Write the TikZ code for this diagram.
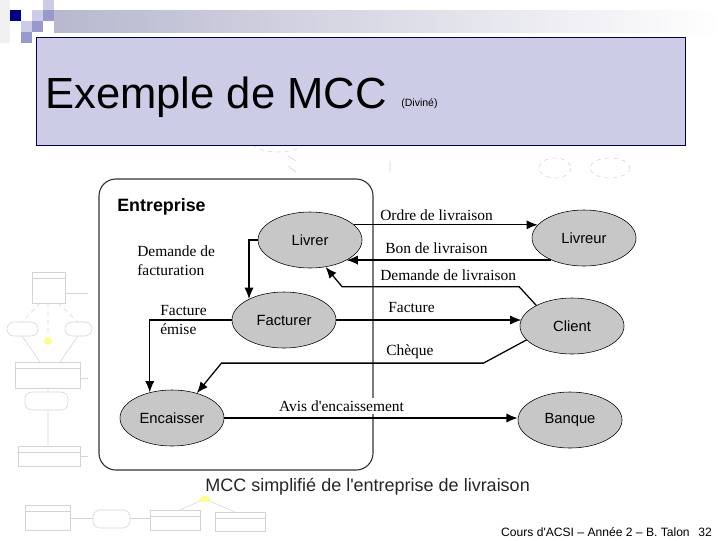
\documentclass[tikz,border=0pt]{standalone}
\usepackage{fontspec}
\setmainfont{Liberation Serif}[Ligatures=TeXOff]
\setsansfont{Liberation Sans}[Ligatures=TeXOff]
\usetikzlibrary{shapes,arrows,arrows.meta}
\definecolor{navy}{RGB}{0,0,128}
\definecolor{lavender}{RGB}{204,204,230}
\definecolor{midblue}{RGB}{153,153,204}
\definecolor{faint}{RGB}{212,212,212}

\begin{document}
\begin{tikzpicture}[x=0.025cm, y=-0.025cm, auto]
	\tikzstyle{process} = [ellipse, draw, fill=black!22, minimum width=2.6cm, minimum height=1.4cm, inner sep=0pt, font=\sffamily\fontsize{10.5}{12}\selectfont]
	\tikzstyle{flow} = [anchor=west, inner sep=0pt, align=left, font=\fontsize{11}{13.5}\selectfont]
	\tikzstyle{line} = [draw, line width=0.9pt, -{Latex[length=8pt,width=6.5pt]}]
	\tikzstyle{ghost} = [draw=faint, line width=0.4pt]
	
	\useasboundingbox (0,0) rectangle (720,540);
	
	\fill[black!6] (0,0) rectangle (10,43);
	\fill[lavender] (43,0) rectangle (54,10);
	\fill[navy] (10,10) rectangle (21,21);
	\fill[lavender] (32,10) rectangle (43,21);
	\fill[midblue] (43,10) rectangle (54,21);
	\fill[lavender] (21,21) rectangle (32,32);
	\fill[midblue] (32,21) rectangle (43,32);
	\fill[midblue] (21,32) rectangle (32,43);
	\shade[left color=black!10!lavender, middle color=navy, right color=white] (54,10) rectangle (720,32);
	
	\path [ghost] (32,272) rectangle (65,303) (32,278) -- (65,278) (65,293) -- (88,293);
	\path [ghost, rounded corners=5] (7,322) rectangle (38,336) (65,322) rectangle (92,336);
	\path [ghost, dashed] (48,303) -- (48,337) (40,303) -- (22,322) (58,303) -- (78,322);
	\fill[yellow!40] (48,341) circle (4);
	\path [ghost] (15,362) rectangle (80,388) (15,368) -- (80,368) (80,378) -- (88,378);
	\path [ghost] (22,336) -- (40,362) (78,336) -- (60,362) (48,388) -- (48,392) (48,410) -- (48,446);
	\path [ghost, rounded corners=5] (25,392) rectangle (68,410);
	\path [ghost] (18,446) rectangle (80,466) (18,452) -- (80,452) (80,456) -- (88,456);
	\path [ghost] (25,505) rectangle (70,530) (25,511) -- (70,511) (70,518) -- (93,518) (130,518) -- (150,518);
	\path [ghost, rounded corners=5] (93,510) rectangle (130,528);
	\path [ghost] (150,510) rectangle (200,530) (150,516) -- (200,516) (215,512) rectangle (265,531) (215,518) -- (265,518);
	\fill[yellow!40] (198,502) -- (212,502) -- (208,496) -- (202,496) -- cycle;
	\path [ghost] (198,502) -- (180,510) (212,502) -- (235,512);
	\path [ghost, dashed] (278,143) ellipse (25 and 9) (555,168) ellipse (16 and 10) (610,168) ellipse (20 and 10);
	\path [ghost] (288,156) -- (296,161) (288,166) -- (296,172) (390,161) -- (390,172);
	
	\draw[draw=navy!60!black, fill=lavender] (36,37) rectangle (685,145);
	\node[anchor=base west, inner sep=0pt, font=\sffamily\fontsize{31}{36}\selectfont] (title) at (45,108) {Exemple de MCC};
	\node[anchor=base west, inner sep=0pt, font=\sffamily\fontsize{7.5}{9}\selectfont] (source) at (401,106) {(Diviné)};
	
	\draw[black!80, line width=0.8pt, rounded corners=12] (99,179) rectangle (373,470);
	\node[anchor=west, inner sep=0pt, font=\sffamily\bfseries\fontsize{12.7}{15}\selectfont] (entreprise) at (117,207) {Entreprise};
	
	\node [process] (livrer) at (310,240) {Livrer};
	\node [process] (livreur) at (584,238) {Livreur};
	\node [process] (facturer) at (284,320) {Facturer};
	\node [process] (client) at (572,326) {Client};
	\node [process] (encaisser) at (172,418) {Encaisser};
	\node [process] (banque) at (570,420) {Banque};
	
	\node [flow] (ordre) at (380,215) {Ordre de livraison};
	\node [flow] (bon) at (385,248) {Bon de livraison};
	\node [flow] (demliv) at (380,275) {Demande de livraison};
	\node [flow] (demfact) at (137,261) {Demande de\\facturation};
	\node [flow] (emise) at (160,320) {Facture\\émise};
	\node [flow] (facture) at (388,308) {Facture};
	\node [flow] (cheque) at (386,352) {Chèque};
	\node [flow, fill=white, inner sep=2pt] (avis) at (276,406) {Avis d'encaissement};
	
	\path [line] (livrer.19) -- (livrer.19 -| livreur.164);
	\path [line] (livreur.214) -- (livreur.214 -| livrer.331);
	\path [line] (client.150) -- ++(-17,-18.5) -- ++(-177,0) -- (livrer.300);
	\path [line] (livrer.west) -| (facturer.149);
	\path [line] (facturer.west) -| (encaisser.131);
	\path [line] (facturer.east) -- (facturer.east -| client.172);
	\path [line] (client.197) -- ++(-43,23.2) -- ++(-262,0) -- (encaisser.45);
	\path [line] (encaisser.east) -- (encaisser.east -| banque.west);
	
	\node[anchor=west, inner sep=0pt, text=black!85, font=\sffamily\fontsize{12.8}{15}\selectfont] (caption) at (205,487) {MCC simplifié de l'entreprise de livraison};
	\node[anchor=base east, inner sep=0pt, font=\sffamily\fontsize{8.6}{10}\selectfont] (footer) at (690,536) {Cours d'ACSI – Année 2 – B. Talon};
	\node[anchor=base east, inner sep=0pt, font=\sffamily\fontsize{8.6}{10}\selectfont] (page) at (712,536) {32};
\end{tikzpicture}
\end{document}
